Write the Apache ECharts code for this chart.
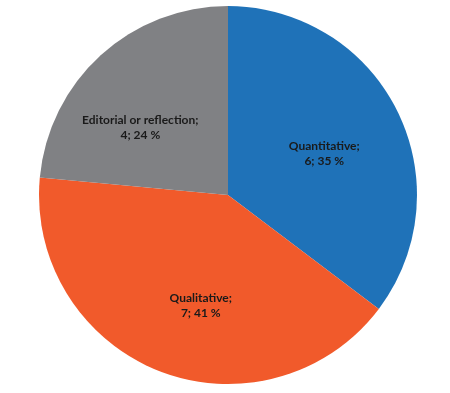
<!DOCTYPE html>
<html>
<head>
<meta charset="utf-8">
<script src="https://cdn.jsdelivr.net/npm/echarts@6/dist/echarts.min.js"></script>
<style>html,body{margin:0;padding:0;background:#fff}#c{width:450px;height:393px}</style>
</head>
<body>
<div id="c"></div>
<script>
const categories = ['Quantitative', 'Qualitative', 'Editorial or reflection'];
const counts = [6, 7, 4];
const percents = [35, 41, 24];
const colors = ['#1f72b8', '#f15a2b', '#808184'];
const labelShift = [[9, 2], [8, 20], [-22, 5]];

const chart = echarts.init(document.getElementById('c'), null, {renderer: 'canvas'});
chart.setOption({
  animation: false,
  series: [{
    type: 'pie',
    center: [228, 195],
    radius: 189,
    startAngle: 90,
    clockwise: true,
    itemStyle: {borderWidth: 0, borderColor: 'transparent'},
    data: categories.map((c, i) => ({name: c, value: counts[i], itemStyle: {color: colors[i]}})),
    label: {
      position: 'inside',
      formatter: p => p.name + ';\n' + counts[p.dataIndex] + '; ' + percents[p.dataIndex] + ' %',
      color: '#1a1a1a',
      fontFamily: 'Lato',
      fontWeight: 'bold',
      fontSize: 12,
      lineHeight: 15,
      align: 'center'
    },
    labelLayout: p => ({dx: labelShift[p.dataIndex][0], dy: labelShift[p.dataIndex][1]}),
    labelLine: {show: false},
    emphasis: {disabled: true}
  }]
});
</script>
</body>
</html>
